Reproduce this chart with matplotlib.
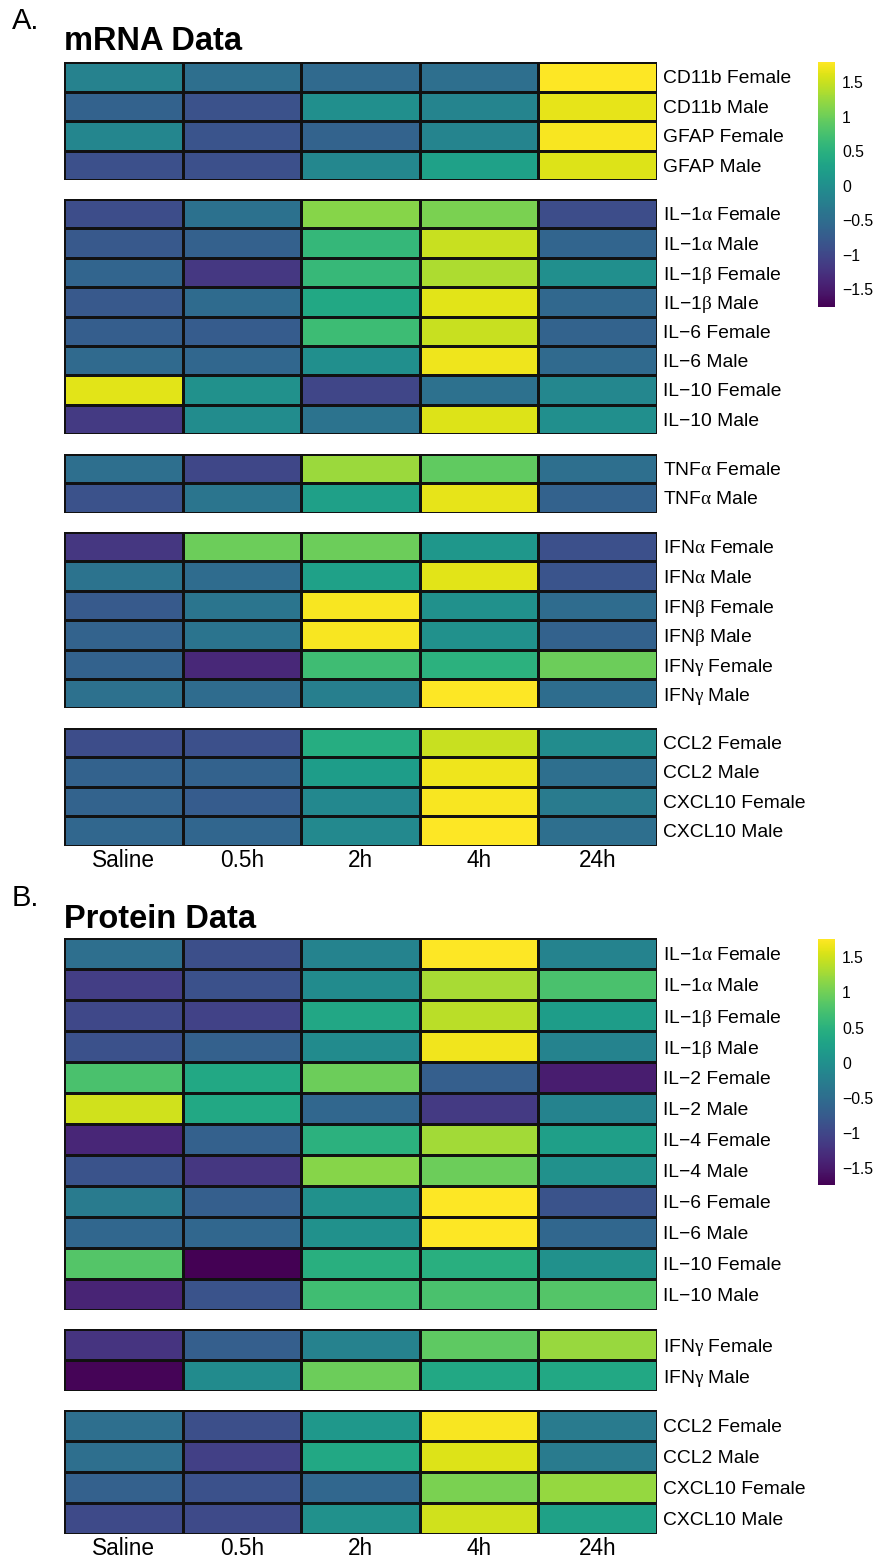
import numpy as np
import matplotlib
matplotlib.use("Agg")
import matplotlib.pyplot as plt
from matplotlib.colors import Normalize
from matplotlib.cm import ScalarMappable

plt.rcParams['font.family'] = ['Liberation Sans', 'DejaVu Sans']
plt.rcParams['mathtext.fontset'] = 'custom'
plt.rcParams['mathtext.rm'] = 'Liberation Serif'
plt.rcParams['mathtext.it'] = 'Liberation Serif'

M = '\u2212'
A_ = r'$\mathrm{\alpha}$'
B_ = r'$\mathrm{\beta}$'
G_ = r'$\mathrm{\gamma}$'

timepoints = ['Saline', '0.5h', '2h', '4h', '24h']

# ---- mRNA (z-scored expression) ----
mrna_glia_labels = ['CD11b Female', 'CD11b Male', 'GFAP Female', 'GFAP Male']
mrna_glia = [
    [-0.18, -0.48, -0.55, -0.48, 1.79],
    [-0.66, -0.87, 0.00, -0.16, 1.66],
    [-0.13, -0.84, -0.64, -0.16, 1.75],
    [-0.90, -0.90, -0.11, 0.26, 1.60],
]

mrna_il_labels = [f'IL{M}1{A_} Female', f'IL{M}1{A_} Male', f'IL{M}1{B_} Female', f'IL{M}1{B_} Male',
                  f'IL{M}6 Female', f'IL{M}6 Male', f'IL{M}10 Female', f'IL{M}10 Male']
mrna_il = [
    [-0.93, -0.43, 1.15, 1.08, -0.93],
    [-0.78, -0.67, 0.60, 1.49, -0.62],
    [-0.61, -1.19, 0.62, 1.35, 0.00],
    [-0.78, -0.53, 0.37, 1.63, -0.57],
    [-0.71, -0.74, 0.67, 1.49, -0.64],
    [-0.55, -0.59, 0.00, 1.70, -0.55],
    [1.63, 0.02, -1.02, -0.45, -0.11],
    [-1.15, -0.05, -0.41, 1.60, 0.00],
]

mrna_tnf_labels = [f'TNF{A_} Female', f'TNF{A_} Male']
mrna_tnf = [
    [-0.48, -1.00, 1.26, 0.92, -0.48],
    [-0.87, -0.38, 0.25, 1.66, -0.66],
]

mrna_ifn_labels = [f'IFN{A_} Female', f'IFN{A_} Male', f'IFN{B_} Female', f'IFN{B_} Male',
                   f'IFN{G_} Female', f'IFN{G_} Male']
mrna_ifn = [
    [-1.20, 0.99, 0.99, 0.12, -0.90],
    [-0.41, -0.52, 0.26, 1.63, -0.84],
    [-0.77, -0.38, 1.76, 0.02, -0.52],
    [-0.64, -0.39, 1.76, 0.02, -0.66],
    [-0.66, -1.37, 0.69, 0.51, 0.99],
    [-0.45, -0.52, -0.24, 1.79, -0.50],
]

mrna_chemo_labels = ['CCL2 Female', 'CCL2 Male', 'CXCL10 Female', 'CXCL10 Male']
mrna_chemo = [
    [-0.93, -0.90, 0.44, 1.49, -0.05],
    [-0.66, -0.66, 0.20, 1.70, -0.48],
    [-0.64, -0.74, -0.10, 1.76, -0.30],
    [-0.59, -0.60, -0.09, 1.79, -0.48],
]

# ---- Protein (z-scored concentration) ----
prot_il_labels = [f'IL{M}1{A_} Female', f'IL{M}1{A_} Male', f'IL{M}1{B_} Female', f'IL{M}1{B_} Male',
                  f'IL{M}2 Female', f'IL{M}2 Male', f'IL{M}4 Female', f'IL{M}4 Male',
                  f'IL{M}6 Female', f'IL{M}6 Male', f'IL{M}10 Female', f'IL{M}10 Male']
prot_il = [
    [-0.48, -0.90, -0.17, 1.76, -0.17],
    [-1.11, -0.87, -0.06, 1.30, 0.75],
    [-0.98, -1.05, 0.34, 1.40, 0.20],
    [-0.87, -0.66, -0.06, 1.69, -0.17],
    [0.76, 0.36, 0.97, -0.69, -1.46],
    [1.51, 0.36, -0.59, -1.15, -0.18],
    [-1.36, -0.67, 0.50, 1.27, 0.22],
    [-0.84, -1.18, 1.13, 0.97, 0.02],
    [-0.30, -0.69, 0.01, 1.76, -0.84],
    [-0.59, -0.59, 0.01, 1.76, -0.59],
    [0.82, -1.74, 0.47, 0.47, 0.01],
    [-1.39, -0.84, 0.68, 0.76, 0.82],
]

prot_ifn_labels = [f'IFN{G_} Female', f'IFN{G_} Male']
prot_ifn = [
    [-1.22, -0.69, -0.20, 0.89, 1.22],
    [-1.70, -0.06, 0.97, 0.36, 0.36],
]

prot_chemo_labels = ['CCL2 Female', 'CCL2 Male', 'CXCL10 Female', 'CXCL10 Male']
prot_chemo = [
    [-0.48, -0.90, 0.12, 1.72, -0.30],
    [-0.48, -1.08, 0.36, 1.58, -0.30],
    [-0.66, -0.87, -0.59, 1.06, 1.20],
    [-0.95, -0.95, 0.01, 1.51, 0.26],
]

colorbar_ticks = [-1.5, -1, -0.5, 0, 0.5, 1, 1.5]
mrna_range = (-1.76, 1.79)
prot_range = (-1.74, 1.76)

W, H = 876, 1559
fig = plt.figure(figsize=(W / 100, H / 100), dpi=100)
fig.patch.set_facecolor('white')


def box(x0, y0, x1, y1):
    """Pixel box (top-left origin) -> figure fraction rect."""
    return [x0 / W, 1 - y1 / H, (x1 - x0) / W, (y1 - y0) / H]


def draw_block(values, labels, y0, y1, norm, show_x):
    ax = fig.add_axes(box(64, y0, 657, y1))
    data = np.asarray(values, dtype=float)
    ax.pcolormesh(data, cmap='viridis', norm=norm,
                  edgecolors='#111111', linewidth=0.75)
    ax.set_xlim(0, data.shape[1])
    ax.set_ylim(data.shape[0], 0)
    ax.yaxis.tick_right()
    ax.set_yticks(np.arange(len(labels)) + 0.5)
    ax.set_yticklabels(labels, fontsize=13.9)
    ax.tick_params(axis='y', length=0, pad=4.3)
    if show_x:
        ax.set_xticks(np.arange(len(timepoints)) + 0.5)
        ax.set_xticklabels(timepoints, fontsize=16.3)
        ax.tick_params(axis='x', length=0, pad=2.5)
    else:
        ax.set_xticks([])
    for s in ax.spines.values():
        s.set_visible(False)
    return ax


def draw_colorbar(y0, y1, norm):
    cax = fig.add_axes(box(818, y0, 835, y1))
    cb = fig.colorbar(ScalarMappable(norm=norm, cmap='viridis'), cax=cax)
    cb.outline.set_visible(False)
    cb.set_ticks(colorbar_ticks)
    cb.set_ticklabels([f'{t:g}'.replace('-', M) for t in colorbar_ticks])
    cax.tick_params(length=0, pad=5, labelsize=11.3)


# Panel A: mRNA
norm_a = Normalize(*mrna_range)
fig.text(12 / W, 1 - 29 / H, 'A.', fontsize=21, va='baseline')
fig.text(64 / W, 1 - 50 / H, 'mRNA Data', fontsize=23.5, weight='bold', va='baseline')
draw_block(mrna_glia, mrna_glia_labels, 62, 180, norm_a, False)
draw_block(mrna_il, mrna_il_labels, 199, 434, norm_a, False)
draw_block(mrna_tnf, mrna_tnf_labels, 453.5, 512.5, norm_a, False)
draw_block(mrna_ifn, mrna_ifn_labels, 532, 708.5, norm_a, False)
draw_block(mrna_chemo, mrna_chemo_labels, 727.5, 845.5, norm_a, True)
draw_colorbar(62, 307, norm_a)

# Panel B: protein
norm_b = Normalize(*prot_range)
fig.text(12 / W, 1 - 906 / H, 'B.', fontsize=21, va='baseline')
fig.text(64 / W, 1 - 928 / H, 'Protein Data', fontsize=23.5, weight='bold', va='baseline')
draw_block(prot_il, prot_il_labels, 938.5, 1309.5, norm_b, False)
draw_block(prot_ifn, prot_ifn_labels, 1329, 1390.5, norm_b, False)
draw_block(prot_chemo, prot_chemo_labels, 1410, 1534, norm_b, True)
draw_colorbar(939, 1185, norm_b)

fig.savefig('out.png', dpi=100, facecolor='white')
